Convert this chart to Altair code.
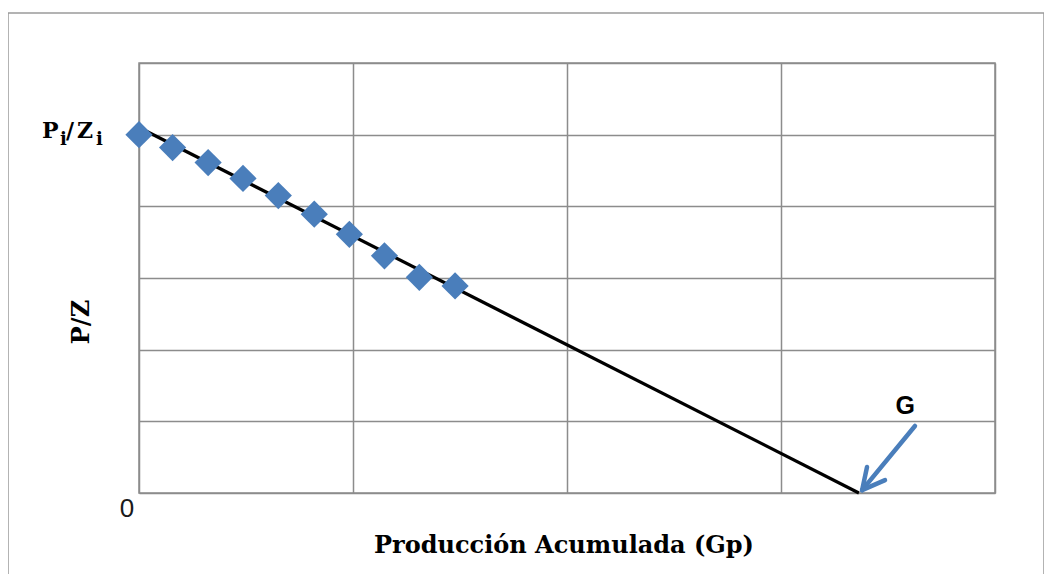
import altair as alt
import pandas as pd

# Data (x in grid units 0-4, y in grid units 0-6)
gp = [0.0, 0.157, 0.323, 0.486, 0.651, 0.819, 0.983, 1.147, 1.31, 1.477]
pz = [5.0, 4.82, 4.61, 4.39, 4.15, 3.89, 3.61, 3.31, 3.01, 2.89]

fit_x = [0.0, 3.364]
fit_y = [5.1, 0.0]

# arrow pointing at G (segments: shaft and two head arms)
arr_x = [3.626, 3.379, 3.379]
arr_y = [0.935, 0.04, 0.04]
arr_x2 = [3.379, 3.402, 3.486]
arr_y2 = [0.04, 0.363, 0.18]

x_ticks = [0, 1, 2, 3, 4]
y_ticks = [0, 1, 2, 3, 4, 5, 6]

GRID = "#8c8c8c"
BLUE = "#4a7ebb"
SERIF = "DejaVu Serif"

pts = pd.DataFrame({"gp": gp, "pz": pz})
fit = pd.DataFrame({"gp": fit_x, "pz": fit_y})
arr = pd.DataFrame({"x": arr_x, "y": arr_y, "x2": arr_x2, "y2": arr_y2})

xs = alt.Scale(domain=[0, 4], nice=False, zero=False)
ys = alt.Scale(domain=[0, 6], nice=False, zero=False)
xax = alt.Axis(values=x_ticks, grid=True, labels=False, ticks=False, domain=False,
               title=None, gridColor=GRID, gridWidth=1.5)
yax = alt.Axis(values=y_ticks, grid=True, labels=False, ticks=False, domain=False,
               title=None, gridColor=GRID, gridWidth=1.5)

points = alt.Chart(pts).mark_point(shape="diamond", filled=True, size=740,
                                   color=BLUE, opacity=1).encode(
    x=alt.X("gp:Q", scale=xs, axis=xax),
    y=alt.Y("pz:Q", scale=ys, axis=yax),
)

line = alt.Chart(fit).mark_line(color="black", strokeWidth=3.2).encode(
    x=alt.X("gp:Q", scale=xs), y=alt.Y("pz:Q", scale=ys)
)

arrow = alt.Chart(arr).mark_rule(color=BLUE, strokeWidth=4.5, strokeCap="round").encode(
    x=alt.X("x:Q", scale=xs), y=alt.Y("y:Q", scale=ys),
    x2="x2:Q", y2="y2:Q"
)

g_lbl = alt.Chart(pd.DataFrame({"x": [3.58], "y": [1.22], "t": ["G"]})).mark_text(
    font="Liberation Sans", fontWeight="bold", fontSize=25, color="black"
).encode(x=alt.X("x:Q", scale=xs), y=alt.Y("y:Q", scale=ys), text="t:N")

zero_lbl = alt.Chart(pd.DataFrame({"x": [-0.056], "y": [-0.23], "t": ["0"]})).mark_text(
    font="Liberation Sans", fontSize=26, color="#1a1a1a"
).encode(x=alt.X("x:Q", scale=xs), y=alt.Y("y:Q", scale=ys), text="t:N")

# P_i / Z_i label built from pieces (main text and subscripts), page x positions
pi_main = pd.DataFrame({"px": [42, 66, 77], "t": ["P", "/", "Z"]})
pi_sub = pd.DataFrame({"px": [60, 96], "t": ["i", "i"]})
lab_main = alt.Chart(pi_main).transform_calculate(rx="datum.px - 139").mark_text(
    font=SERIF, fontWeight="bold", fontSize=22,
    align="left", baseline="alphabetic", color="black").encode(
    x=alt.X("rx:Q", scale=None), y=alt.value(138 - 63), text="t:N")
lab_sub = alt.Chart(pi_sub).transform_calculate(rx="datum.px - 139").mark_text(
    font=SERIF, fontWeight="bold", fontSize=18,
    align="left", baseline="alphabetic", color="black").encode(
    x=alt.X("rx:Q", scale=None), y=alt.value(145 - 63), text="t:N")

ytitle = alt.Chart(pd.DataFrame({"t": ["P/Z"]})).mark_text(
    font=SERIF, fontWeight="bold", fontSize=24, angle=270, color="black"
).encode(x=alt.value(82 - 139), y=alt.value(322 - 63), text="t:N")

xtitle = alt.Chart(pd.DataFrame({"t": ["Producción Acumulada (Gp)"]})).mark_text(
    font=SERIF, fontWeight="bold", fontSize=24, color="black"
).encode(x=alt.value(564 - 139), y=alt.value(546 - 63), text="t:N")

frame = alt.Chart(pd.DataFrame({"a": [0]})).mark_rect(
    fill=None, stroke="#9a9a9a", strokeWidth=1.5
).encode(x=alt.value(-131), y=alt.value(-50), x2=alt.value(905), y2=alt.value(530))

chart = alt.layer(
    frame, line, points, arrow, g_lbl, zero_lbl, lab_main, lab_sub, ytitle, xtitle
).properties(
    width=856, height=430,
    padding={"left": 131, "top": 55, "right": 49, "bottom": 81},
    autosize="none",
).configure_view(stroke=GRID, strokeWidth=1.5)

chart.save("out.html", embed_options={"renderer": "svg", "actions": False})
